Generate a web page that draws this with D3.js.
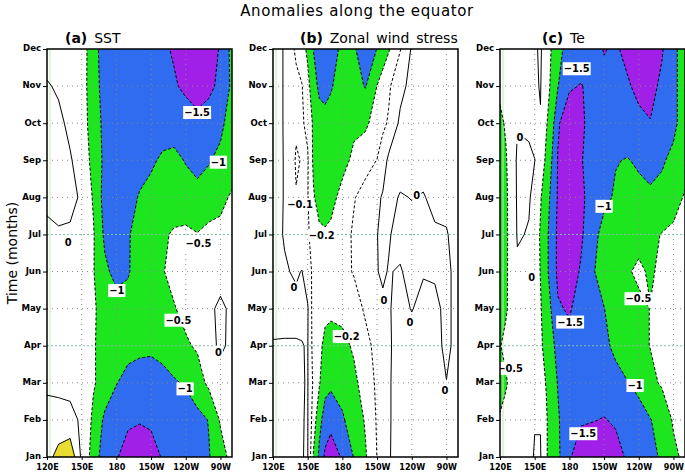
<!DOCTYPE html>
<html>
<head>
<meta charset="utf-8">
<script src="https://cdn.jsdelivr.net/npm/d3@7"></script>
<style>
  body { margin: 0; background: #fff; }
  svg { display: block; }
  .axis text { font-family: "DejaVu Sans Condensed", "Liberation Sans Narrow", "DejaVu Sans", sans-serif; font-weight: bold; font-size: 9.5px; fill: #000; }
  .axis.xax text { font-size: 9px; }
  .axis line { stroke: #000; }
  .clab text { font-family: "DejaVu Sans Condensed", "Liberation Sans Narrow", "DejaVu Sans", sans-serif; font-weight: bold; font-size: 11px; }
</style>
</head>
<body>
<svg id="chart" width="685" height="472"></svg>
<script>
const monthNames = ["Jan", "Feb", "Mar", "Apr", "May", "Jun", "Jul", "Aug", "Sep", "Oct", "Nov", "Dec"];
const lonTicks = [120, 150, 180, 210, 240, 270];
const lonTickLabels = ["120E", "150E", "180", "150W", "120W", "90W"];

// (a) SST anomaly, rows Jan..Dec, one value per longitude
const sstLons = [120, 130, 140, 150, 160, 170, 180, 190, 200, 210, 220, 230, 240, 250, 260, 270, 280];
const sstRows = [
  [0.3, 0.7, 0.9, -0.1, -0.7, -1.3, -1.45, -1.75, -1.9, -1.75, -1.45, -1.4, -1.35, -1.2, -1.03, -0.7, -0.35],
  [0.1, 0.12, 0.1, -0.05, -0.6, -1.1, -1.3, -1.4, -1.45, -1.4, -1.35, -1.3, -1.25, -1.15, -0.98, -0.45, -0.2],
  [-0.05, -0.08, -0.1, -0.25, -0.45, -0.7, -0.98, -1.15, -1.2, -1.2, -1.15, -1.05, -0.95, -0.7, -0.4, -0.2, -0.1],
  [-0.1, -0.15, -0.2, -0.35, -0.45, -0.7, -0.8, -0.85, -0.9, -0.92, -0.85, -0.7, -0.55, -0.45, -0.15, 0.08, -0.1],
  [-0.1, -0.12, -0.2, -0.35, -0.45, -0.65, -0.8, -0.8, -0.75, -0.7, -0.6, -0.52, -0.4, -0.25, -0.1, 0.1, -0.1],
  [-0.1, -0.12, -0.18, -0.3, -0.47, -0.9, -1.15, -1.05, -0.75, -0.6, -0.52, -0.4, -0.35, -0.3, -0.25, -0.2, -0.15],
  [-0.1, -0.03, -0.03, -0.2, -0.45, -1.1, -1.2, -1.05, -0.8, -0.7, -0.6, -0.42, -0.38, -0.48, -0.35, -0.4, -0.3],
  [0.1, 0.1, 0.06, -0.03, -0.55, -1.2, -1.2, -1.1, -0.98, -0.9, -0.88, -0.85, -0.85, -0.9, -0.8, -0.6, -0.45],
  [0.12, 0.1, 0.02, -0.1, -0.7, -1.1, -1.15, -1.12, -1.1, -1.05, -0.95, -0.92, -1.02, -1.1, -1.03, -0.9, -0.7],
  [0.1, 0.05, -0.05, -0.3, -0.7, -1.15, -1.2, -1.2, -1.2, -1.2, -1.15, -1.15, -1.25, -1.35, -1.3, -1.1, -0.8],
  [0.02, -0.03, -0.12, -0.28, -0.78, -1.2, -1.25, -1.25, -1.3, -1.3, -1.35, -1.45, -1.6, -1.75, -1.6, -1.4, -0.9],
  [-0.1, -0.12, -0.15, -0.25, -0.8, -1.25, -1.3, -1.3, -1.35, -1.4, -1.42, -1.55, -1.8, -1.9, -1.75, -1.45, -0.85]
];
const sstLabels = [[249.8, 10.3, -1.5], [268.2, 8.96, -1], [250.9, 6.76, -0.5], [138.4, 6.8, 0],
  [180.3, 5.5, -1], [233.6, 4.7, -0.5], [268.2, 3.84, 0], [239.4, 2.85, -1]];

// (b) zonal wind stress anomaly
const tauLons = [120, 130, 140, 145, 150, 155, 160, 165, 170, 180, 190, 200, 210, 215, 220, 230, 240, 250, 260, 270, 280];
const tauRows = [
  [-0.02, -0.02, -0.01, -0.002, 0.005, -0.21, -0.32, -0.42, -0.45, -0.39, -0.295, -0.21, -0.098, -0.05, -0.008, 0.04, 0.04, 0.04, 0.03, 0.03, 0.03],
  [-0.02, -0.02, -0.015, -0.003, 0.005, -0.15, -0.27, -0.34, -0.37, -0.31, -0.26, -0.19, -0.09, -0.05, -0.01, 0.04, 0.04, 0.04, 0.03, 0.02, 0.03],
  [-0.015, -0.02, -0.015, -0.005, 0.005, -0.12, -0.19, -0.27, -0.28, -0.27, -0.225, -0.15, -0.085, -0.04, -0.01, 0.04, 0.04, 0.04, 0.03, 0.002, 0.03],
  [-0.004, -0.005, -0.005, -0.003, 0.005, -0.14, -0.18, -0.22, -0.24, -0.23, -0.185, -0.12, -0.08, -0.04, -0.01, 0.03, 0.03, 0.04, 0.03, -0.02, 0.03],
  [0.02, 0.02, 0.02, 0.02, 0.01, -0.15, -0.17, -0.18, -0.18, -0.17, -0.13, -0.09, -0.04, -0.01, -0.005, 0.02, -0.003, 0.02, 0.02, -0.02, 0.03],
  [0.03, 0.008, -0.01, 0.003, -0.06, -0.12, -0.15, -0.16, -0.15, -0.12, -0.095, -0.06, -0.002, 0.008, -0.003, 0.005, -0.02, -0.005, -0.01, -0.02, 0.03],
  [0.03, -0.006, -0.05, -0.07, -0.09, -0.13, -0.18, -0.19, -0.18, -0.13, -0.09, -0.06, -0.002, 0.02, 0.005, -0.02, -0.02, -0.015, -0.01, -0.005, 0.03],
  [0.03, -0.004, -0.095, -0.09, -0.095, -0.19, -0.24, -0.24, -0.23, -0.17, -0.105, -0.07, -0.02, 0.01, 0.02, -0.005, 0.002, -0.005, 0.02, 0.02, 0.03],
  [0.03, -0.004, -0.11, -0.095, -0.09, -0.22, -0.26, -0.26, -0.25, -0.23, -0.18, -0.13, -0.098, -0.05, 0.02, 0.03, 0.03, 0.03, 0.03, 0.03, 0.03],
  [0.03, -0.005, -0.085, -0.09, -0.12, -0.22, -0.26, -0.27, -0.26, -0.24, -0.22, -0.22, -0.15, -0.12, -0.09, 0.02, 0.03, 0.03, 0.03, 0.03, 0.03],
  [0.03, -0.005, -0.07, -0.095, -0.17, -0.26, -0.32, -0.33, -0.31, -0.25, -0.27, -0.305, -0.198, -0.15, -0.115, -0.03, 0.03, 0.03, 0.03, 0.03, 0.03],
  [0.03, -0.005, -0.12, -0.16, -0.22, -0.302, -0.36, -0.38, -0.34, -0.28, -0.29, -0.35, -0.298, -0.26, -0.21, -0.105, 0.01, 0.03, 0.03, 0.03, 0.03]
];
const tauLabels = [[143.4, 7.82, -0.1], [162.1, 6.99, -0.2], [244.3, 8.06, 0], [138.2, 5.57, 0],
  [183.7, 4.26, -0.2], [216, 5.23, 0], [238.5, 4.65, 0], [268.8, 2.8, 0]];

// (c) Te anomaly
const teLons = [120, 125, 135, 145, 150, 155, 160, 165, 170, 180, 190, 200, 210, 220, 230, 240, 250, 260, 270, 280];
const teRows = [
  [-0.3, -0.25, -0.2, -0.1, 0.03, 0.03, -0.45, -0.75, -0.9, -1.45, -1.75, -1.8, -1.8, -1.65, -1.45, -1.3, -1.1, -0.95, -0.6, -0.4],
  [-0.45, -0.35, -0.2, -0.15, -0.02, -0.02, -0.45, -0.75, -0.95, -1.3, -1.45, -1.48, -1.52, -1.45, -1.3, -1.15, -1.02, -0.8, -0.45, -0.35],
  [-0.7, -0.55, -0.2, -0.15, -0.2, -0.35, -0.52, -0.8, -1.02, -1.3, -1.35, -1.4, -1.3, -1.15, -1.02, -0.9, -0.6, -0.45, -0.35, -0.3],
  [-0.52, -0.4, -0.2, -0.15, -0.25, -0.4, -0.7, -0.9, -1.15, -1.35, -1.3, -1.2, -1.1, -0.9, -0.75, -0.6, -0.49, -0.35, -0.3, -0.25],
  [-0.75, -0.55, -0.2, -0.1, -0.2, -0.45, -0.8, -1.05, -1.45, -1.55, -1.3, -1.15, -1.01, -0.8, -0.7, -0.6, -0.49, -0.35, -0.3, -0.25],
  [-0.75, -0.58, -0.06, -0.04, -0.25, -0.52, -0.9, -1.2, -1.6, -1.75, -1.45, -1.05, -0.8, -0.65, -0.55, -0.42, -0.56, -0.4, -0.35, -0.3],
  [-0.75, -0.6, 0.03, -0.02, -0.2, -0.55, -0.9, -1.2, -1.6, -1.85, -1.58, -1.15, -0.85, -0.75, -0.7, -0.65, -0.6, -0.48, -0.4, -0.35],
  [-0.75, -0.6, 0.05, 0.03, -0.1, -0.45, -0.85, -1.1, -1.55, -1.85, -1.6, -1.3, -1.1, -0.95, -0.9, -0.9, -0.95, -0.88, -0.7, -0.45],
  [-0.7, -0.55, 0.06, 0.06, 0.005, -0.2, -0.6, -1.02, -1.52, -1.8, -1.55, -1.2, -1.1, -1.02, -0.98, -1.05, -1.1, -1.05, -0.9, -0.7],
  [-0.6, -0.45, -0.02, -0.06, -0.1, -0.02, -0.45, -0.8, -1.45, -1.75, -1.6, -1.3, -1.25, -1.2, -1.25, -1.4, -1.48, -1.35, -1.1, -0.8],
  [-0.4, -0.3, -0.2, -0.12, -0.05, 0.02, -0.3, -0.62, -0.98, -1.45, -1.52, -1.4, -1.4, -1.35, -1.45, -1.6, -1.65, -1.4, -1.1, -0.8],
  [-0.3, -0.25, -0.2, -0.15, -0.05, 0.05, -0.25, -0.55, -0.85, -1.2, -1.3, -1.35, -1.52, -1.45, -1.6, -1.8, -1.85, -1.55, -1.1, -0.8]
];
const teLabels = [[186.3, 11.48, -1.5], [137.3, 9.63, 0], [210, 7.77, -1], [147.4, 5.86, 0], [239.7, 5.28, -0.5],
  [180.6, 4.65, -1.5], [128.7, 3.4, -0.5], [236.8, 2.94, -1], [192, 1.64, -1.5]];

const green = "#1ee61e", blue = "#2f6cf0", purple = "#a020e8", yellow = "#e8dc30";

const panels = [
  { tag: "(a)", title: " SST", lons: sstLons, rows: sstRows, labels: sstLabels, titleX: 65,
    fills: [[-0.5, green], [-1, blue], [-1.5, purple], [0.5, yellow]], lines: [0.5, 0, -0.5, -1, -1.5] },
  { tag: "(b)", title: " Zonal wind stress", lons: tauLons, rows: tauRows, labels: tauLabels, titleX: 300,
    fills: [[-0.2, green], [-0.3, blue], [-0.4, purple]], lines: [0, -0.1, -0.2, -0.3, -0.4] },
  { tag: "(c)", title: " Te", lons: teLons, rows: teRows, labels: teLabels, titleX: 542,
    fills: [[-0.5, green], [-1, blue], [-1.5, purple]], lines: [0, -0.5, -1, -1.5] }
];

const svg = d3.select("#chart");
const panelLeft = [47, 273, 500], panelWidth = 185, plotTop = 49, plotBottom = 457;
const y = d3.scaleLinear().domain([1, 12]).range([plotBottom, plotTop]);
const fmt = v => v < 0 ? "\u2212" + Math.abs(v) : String(v);

svg.append("text")
  .attr("x", 357).attr("y", 16)
  .attr("text-anchor", "middle")
  .style("font-family", "DejaVu Sans, sans-serif")
  .style("font-size", "15px")
  .style("letter-spacing", "0.6px")
  .text("Anomalies along the equator");

svg.append("text")
  .attr("transform", "translate(17,253) rotate(-90)")
  .attr("text-anchor", "middle")
  .style("font-family", "DejaVu Sans, sans-serif")
  .style("font-size", "14px")
  .text("Time (months)");

panels.forEach((p, k) => {
  const left = panelLeft[k];
  const x = d3.scaleLinear().domain([120, 280]).range([left, left + panelWidth]);
  const nx = p.lons.length, ny = p.rows.length;
  // grid index -> longitude / month (d3.contours puts sample i at i + 0.5)
  const ix = d3.scaleLinear().domain(d3.range(nx)).range(p.lons);
  const iy = d3.scaleLinear().domain([0, ny - 1]).range([1, ny]);
  const path = d3.geoPath(d3.geoTransform({
    point(cx, cy) { this.stream.point(x(ix(cx - 0.5)), y(iy(cy - 0.5))); }
  }));
  const flat = p.rows.flat();
  const neg = flat.map(v => -v);
  const contour = level => level >= 0
    ? d3.contours().size([nx, ny]).thresholds([level])(flat)[0]
    : d3.contours().size([nx, ny]).thresholds([-level])(neg)[0];

  const g = svg.append("g");
  const clipId = "clip" + k;
  g.append("clipPath").attr("id", clipId)
    .append("rect")
    .attr("x", left).attr("y", plotTop)
    .attr("width", panelWidth).attr("height", plotBottom - plotTop);

  const inner = g.append("g").attr("clip-path", `url(#${clipId})`);

  p.fills.forEach(([level, color]) => {
    inner.append("path")
      .attr("d", path(contour(level)))
      .attr("fill", color)
      .attr("stroke", "none");
  });

  // dotted grid
  inner.selectAll(".vgrid")
    .data(lonTicks.slice(1))
    .enter().append("line")
    .attr("x1", d => x(d)).attr("x2", d => x(d))
    .attr("y1", plotTop).attr("y2", plotBottom)
    .attr("stroke", "#8a8a8a").attr("stroke-width", 1)
    .attr("stroke-dasharray", "1,4");
  inner.selectAll(".hgrid")
    .data(d3.range(2, 12))
    .enter().append("line")
    .attr("x1", left).attr("x2", left + panelWidth)
    .attr("y1", d => y(d)).attr("y2", d => y(d))
    .attr("stroke", d => (d === 4 || d === 7) ? "#7fbf9f" : "#8a8a8a")
    .attr("stroke-width", 1)
    .attr("stroke-dasharray", d => (d === 4 || d === 7) ? "2,2" : "1,4");
  inner.append("line")
    .attr("x1", left + 3).attr("x2", left + 3)
    .attr("y1", plotTop).attr("y2", plotBottom)
    .attr("stroke", "#bfe8bf").attr("stroke-width", 1);

  p.lines.forEach(level => {
    inner.append("path")
      .attr("d", path(contour(level)))
      .attr("fill", "none")
      .attr("stroke", "#000")
      .attr("stroke-width", 1)
      .attr("stroke-dasharray", level < 0 ? "3,2" : null);
  });

  const labs = inner.selectAll(".clab")
    .data(p.labels)
    .enter().append("g")
    .attr("class", "clab")
    .attr("transform", d => `translate(${x(d[0])},${y(d[1])})`);
  labs.append("text")
    .attr("text-anchor", "middle")
    .attr("dy", "0.36em")
    .text(d => fmt(d[2]));
  labs.each(function() {
    const gg = d3.select(this);
    const bb = gg.select("text").node().getBBox();
    gg.insert("rect", "text")
      .attr("x", bb.x - 1).attr("y", bb.y)
      .attr("width", bb.width + 2).attr("height", bb.height)
      .attr("fill", "#fff");
  });

  // frame and axes
  g.append("rect")
    .attr("x", left).attr("y", plotTop)
    .attr("width", panelWidth).attr("height", plotBottom - plotTop)
    .attr("fill", "none").attr("stroke", "#000").attr("stroke-width", 1.5);

  g.append("g")
    .attr("class", "axis")
    .attr("transform", `translate(${left},0)`)
    .call(d3.axisLeft(y).tickValues(d3.range(1, 13)).tickFormat(m => monthNames[m - 1]).tickSize(4).tickPadding(2))
    .call(a => a.select(".domain").remove())
    .call(a => a.selectAll("text").attr("dy", "0.2em"));

  g.append("g")
    .attr("class", "axis xax")
    .attr("transform", `translate(0,${plotBottom})`)
    .call(d3.axisBottom(x).tickValues(lonTicks).tickFormat((d, i) => lonTickLabels[i]).tickSize(3))
    .call(a => a.select(".domain").remove())
    .call(a => a.selectAll("text").attr("dy", null).attr("y", 12.6));

  const t = svg.append("text")
    .attr("x", p.titleX).attr("y", 43)
    .style("font-family", "DejaVu Sans, sans-serif")
    .style("font-size", "14px")
    .style("word-spacing", "2.5px");
  t.append("tspan").style("font-weight", "bold").text(p.tag);
  t.append("tspan").text(p.title);
});
</script>
</body>
</html>
